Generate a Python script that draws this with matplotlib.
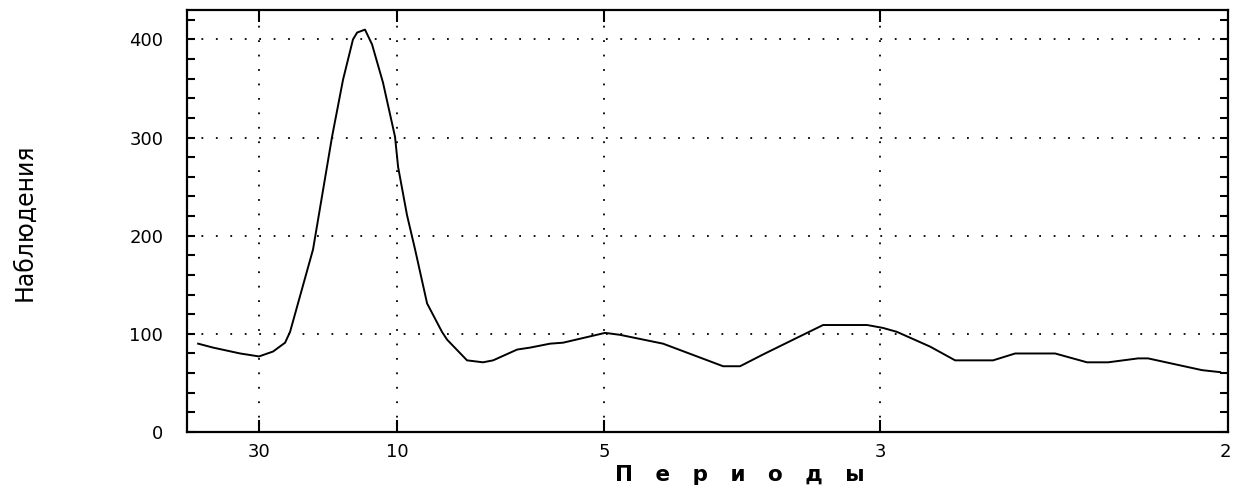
import numpy as np
import matplotlib
matplotlib.use('Agg')
import matplotlib.pyplot as plt
from matplotlib.ticker import MultipleLocator

# spectrum values read along the frequency axis (cycles per step)
freq = [0.0039, 0.0111, 0.0242, 0.0333, 0.0401, 0.0459, 0.0483, 0.0594,
        0.0686, 0.0739, 0.0787, 0.0807, 0.0845, 0.0879, 0.0932, 0.0990,
        0.1005, 0.1048, 0.1087, 0.1145, 0.1217, 0.1242, 0.1338, 0.1415,
        0.1464, 0.1580, 0.1643, 0.1739, 0.1802, 0.2005, 0.2077, 0.2285,
        0.2449, 0.2575, 0.2657, 0.2768, 0.2932, 0.3058, 0.3271, 0.3348,
        0.3415, 0.3575, 0.3696, 0.3879, 0.3986, 0.4179, 0.4333, 0.4435,
        0.4580, 0.4628, 0.4889, 0.4976]
obs = [90, 86, 80, 77, 82, 91, 102, 186,
       301, 359, 400, 407, 410, 395, 356, 301,
       270, 221, 186, 131, 102, 94, 73, 71,
       73, 84, 86, 90, 91, 101, 99, 90,
       77, 67, 67, 79, 96, 109, 109, 106,
       102, 87, 73, 73, 80, 80, 71, 71,
       75, 75, 63, 61]

periods = [30, 10, 5, 3, 2]
period_labels = ['30', '10', '5', '3', '2']
yticks = [0, 100, 200, 300, 400]

fig = plt.figure(figsize=(12.39, 4.97), dpi=100)
ax = fig.add_axes([0.1509, 0.1308, 0.8402, 0.8491])

ax.plot(freq, obs, color='black', lw=1.4)

ax.set_xlim(-0.0015, 0.5014)
ax.set_ylim(0, 430)

# x axis is frequency, labelled with the matching periods
xt = [1.0 / p for p in periods]
ax.set_xticks(xt)
ax.set_xticklabels(period_labels, fontsize=13)
ax.set_yticks(yticks)
ax.set_yticklabels([str(v) for v in yticks], fontsize=13)
ax.yaxis.set_minor_locator(MultipleLocator(20))

ax.tick_params(axis='x', which='major', direction='in', length=8.6, width=1.5,
               top=True, bottom=True, pad=8)
ax.tick_params(axis='y', which='both', direction='in', length=6, width=1.5,
               left=True, right=True, pad=17)

# no tick marks at the right edge, only the label
last = ax.xaxis.get_major_ticks()[-1]
last.tick1line.set_visible(False)
last.tick2line.set_visible(False)

for g in xt[:-1]:
    ax.axvline(g, color='black', lw=1.3, ls=(0, (1, 7)), zorder=0)
for g in yticks[1:]:
    ax.axhline(g, color='black', lw=1.3, ls=(0, (1, 7)), zorder=0)

for s in ax.spines.values():
    s.set_linewidth(1.6)

fig.text(740 / 1239, 1 - 475 / 497, 'П   е   р   и   о   д   ы', ha='center',
         va='center', fontsize=15.5, fontweight='bold')
fig.text(25 / 1239, 1 - 222 / 497, 'Наблюдения', ha='center', va='center',
         rotation=90, fontsize=17)

fig.savefig('out.png', dpi=100, facecolor='white')
